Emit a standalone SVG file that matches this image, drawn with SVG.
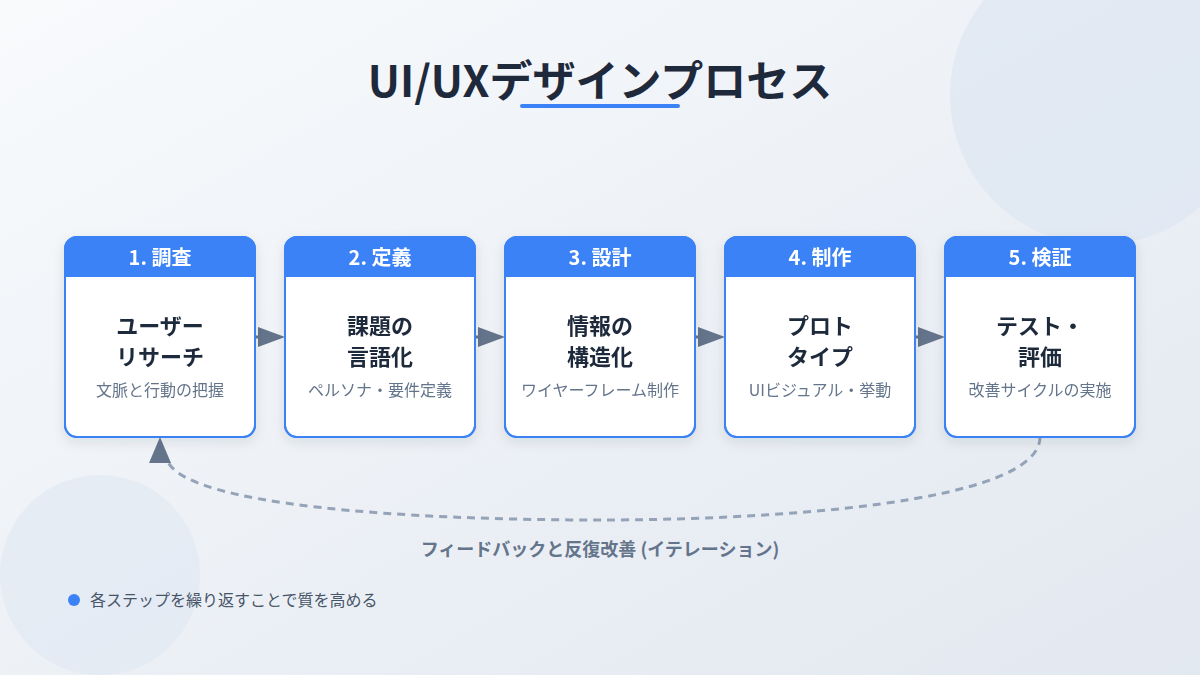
<svg xmlns="http://www.w3.org/2000/svg" width="1200" height="675" viewBox="0 0 1200 675">
<defs>
<linearGradient id="bg" x1="0" y1="0" x2="1" y2="1">
<stop offset="0" stop-color="#f8fafc"/>
<stop offset="1" stop-color="#e2e8f0"/>
</linearGradient>
<filter id="sh" x="-20%" y="-20%" width="140%" height="140%">
<feDropShadow dx="0" dy="4" stdDeviation="6" flood-color="#1e293b" flood-opacity="0.1"/>
</filter>
<clipPath id="hc1"><rect x="65" y="237" width="190" height="200" rx="12"/></clipPath>
<clipPath id="hc2"><rect x="285" y="237" width="190" height="200" rx="12"/></clipPath>
<clipPath id="hc3"><rect x="505" y="237" width="190" height="200" rx="12"/></clipPath>
<clipPath id="hc4"><rect x="725" y="237" width="190" height="200" rx="12"/></clipPath>
<clipPath id="hc5"><rect x="945" y="237" width="190" height="200" rx="12"/></clipPath>
</defs>
<style>
text{font-family:"Noto Sans CJK JP","Noto Sans",sans-serif}
.title{font-size:43px;font-weight:700;fill:#1e293b}
.card{fill:#ffffff;stroke:#3b82f6;stroke-width:2}
.hdr{fill:#3b82f6}
.htxt{font-size:20px;font-weight:700;fill:#ffffff}
.main{font-size:22px;font-weight:700;fill:#1e293b}
.sub{font-size:16px;fill:#64748b}
.conn{stroke:#64748b;stroke-width:3;fill:none}
.fb{stroke:#94a3b8;stroke-width:3;fill:none;stroke-dasharray:8 6}
.arrow{fill:#64748b}
.lbl{font-size:18px;font-weight:700;fill:#64748b}
.note{font-size:16px;fill:#475569}
</style>
<rect width="1200" height="675" fill="url(#bg)"/>
<circle cx="1100" cy="95" r="150" fill="#dbe5f1" opacity="0.6"/>
<circle cx="100" cy="575" r="100" fill="#dbe5f1" opacity="0.5"/>

<g id="title">
<text class="title" x="600" y="97" text-anchor="middle">UI/UXデザインプロセス</text>
<line x1="522" y1="106" x2="678" y2="106" stroke="#3b82f6" stroke-width="4" stroke-linecap="round"/>
</g>

<g id="connectors">
<line class="conn" x1="255" y1="337" x2="262" y2="337"/>
<path class="arrow" d="M258,327 L285,337 L258,347 Z"/>
<line class="conn" x1="475" y1="337" x2="482" y2="337"/>
<path class="arrow" d="M478,327 L505,337 L478,347 Z"/>
<line class="conn" x1="695" y1="337" x2="702" y2="337"/>
<path class="arrow" d="M698,327 L725,337 L698,347 Z"/>
<line class="conn" x1="915" y1="337" x2="922" y2="337"/>
<path class="arrow" d="M918,327 L945,337 L918,347 Z"/>
<path class="fb" d="M1040,437 C1040,505 760,520 600,520 C400,520 190,505 168,462"/>
<path class="arrow" d="M160,437 L171,463 L149,463 Z"/>
</g>

<g id="node1" filter="url(#sh)">
<rect class="card" x="65" y="237" width="190" height="200" rx="12"/>
<rect class="hdr" x="65" y="237" width="190" height="40" clip-path="url(#hc1)"/>
<rect x="65" y="237" width="190" height="200" rx="12" fill="none" stroke="#3b82f6" stroke-width="2"/>
<text class="htxt" x="160" y="265" text-anchor="middle">1. 調査</text>
<text class="main" x="160" y="334" text-anchor="middle">ユーザー</text>
<text class="main" x="160" y="365" text-anchor="middle">リサーチ</text>
<text class="sub" x="160" y="396" text-anchor="middle">文脈と行動の把握</text>
</g>
<g id="node2" filter="url(#sh)">
<rect class="card" x="285" y="237" width="190" height="200" rx="12"/>
<rect class="hdr" x="285" y="237" width="190" height="40" clip-path="url(#hc2)"/>
<rect x="285" y="237" width="190" height="200" rx="12" fill="none" stroke="#3b82f6" stroke-width="2"/>
<text class="htxt" x="380" y="265" text-anchor="middle">2. 定義</text>
<text class="main" x="380" y="334" text-anchor="middle">課題の</text>
<text class="main" x="380" y="365" text-anchor="middle">言語化</text>
<text class="sub" x="380" y="396" text-anchor="middle">ペルソナ・要件定義</text>
</g>
<g id="node3" filter="url(#sh)">
<rect class="card" x="505" y="237" width="190" height="200" rx="12"/>
<rect class="hdr" x="505" y="237" width="190" height="40" clip-path="url(#hc3)"/>
<rect x="505" y="237" width="190" height="200" rx="12" fill="none" stroke="#3b82f6" stroke-width="2"/>
<text class="htxt" x="600" y="265" text-anchor="middle">3. 設計</text>
<text class="main" x="600" y="334" text-anchor="middle">情報の</text>
<text class="main" x="600" y="365" text-anchor="middle">構造化</text>
<text class="sub" x="600" y="396" text-anchor="middle">ワイヤーフレーム制作</text>
</g>
<g id="node4" filter="url(#sh)">
<rect class="card" x="725" y="237" width="190" height="200" rx="12"/>
<rect class="hdr" x="725" y="237" width="190" height="40" clip-path="url(#hc4)"/>
<rect x="725" y="237" width="190" height="200" rx="12" fill="none" stroke="#3b82f6" stroke-width="2"/>
<text class="htxt" x="820" y="265" text-anchor="middle">4. 制作</text>
<text class="main" x="820" y="334" text-anchor="middle">プロト</text>
<text class="main" x="820" y="365" text-anchor="middle">タイプ</text>
<text class="sub" x="820" y="396" text-anchor="middle">UIビジュアル・挙動</text>
</g>
<g id="node5" filter="url(#sh)">
<rect class="card" x="945" y="237" width="190" height="200" rx="12"/>
<rect class="hdr" x="945" y="237" width="190" height="40" clip-path="url(#hc5)"/>
<rect x="945" y="237" width="190" height="200" rx="12" fill="none" stroke="#3b82f6" stroke-width="2"/>
<text class="htxt" x="1040" y="265" text-anchor="middle">5. 検証</text>
<text class="main" x="1040" y="334" text-anchor="middle">テスト・</text>
<text class="main" x="1040" y="365" text-anchor="middle">評価</text>
<text class="sub" x="1040" y="396" text-anchor="middle">改善サイクルの実施</text>
</g>

<g id="feedback-label">
<text class="lbl" x="600" y="556" text-anchor="middle">フィードバックと反復改善 (イテレーション)</text>
</g>
<g id="legend">
<circle cx="74" cy="600" r="6" fill="#3b82f6"/>
<text class="note" x="90" y="606">各ステップを繰り返すことで質を高める</text>
</g>
</svg>
